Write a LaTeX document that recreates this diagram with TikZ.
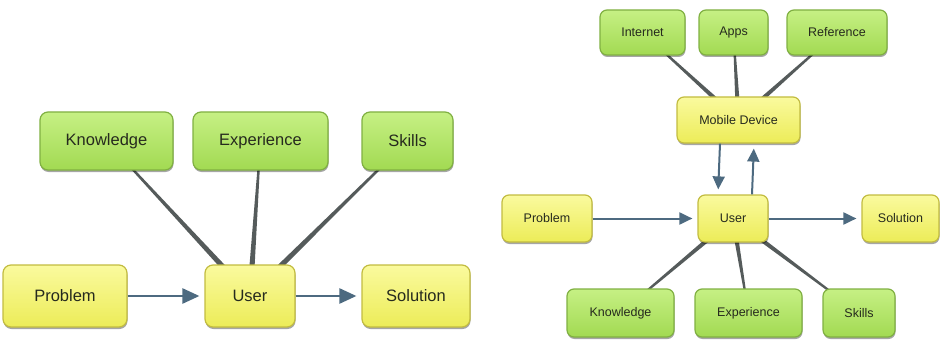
\documentclass[tikz,border=0pt]{standalone}
\usepackage{fontspec}
\setmainfont{Liberation Sans}
\usetikzlibrary{arrows.meta,shadows,backgrounds,calc}
\definecolor{gtop}{HTML}{C6F084}
\definecolor{gbot}{HTML}{A2DA52}
\definecolor{gbord}{HTML}{80B042}
\definecolor{ytop}{HTML}{FAFA9E}
\definecolor{ybot}{HTML}{ECEC58}
\definecolor{ybord}{HTML}{C2BC40}
\definecolor{linkc}{HTML}{555B5B}
\definecolor{arrc}{HTML}{4D6A80}
\definecolor{txtc}{HTML}{262A1E}
\newcommand{\taperlink}[4]{%
  \fill[linkc] ($(#1)!#3!90:(#2)$) -- ($(#1)!#3!-90:(#2)$) -- ($(#2)!#4!90:(#1)$) -- ($(#2)!#4!-90:(#1)$) -- cycle;}
\tikzset{
  box/.style={rounded corners=8pt, line width=1.2pt, inner sep=0pt, text=txtc,
    drop shadow={shadow xshift=0.5pt, shadow yshift=-2pt, opacity=0.35, fill=black}},
  greenbox/.style={box, draw=gbord, top color=gtop, bottom color=gbot},
  yellowbox/.style={box, draw=ybord, top color=ytop, bottom color=ybot},
  bigtext/.style={font=\fontsize{16.5}{19}\selectfont},
  smalltext/.style={font=\fontsize{12.5}{15}\selectfont, rounded corners=7pt},
  arr/.style={draw=arrc, line width=2.6pt, -{Triangle[length=17pt,width=15pt]}, shorten >=5pt},
  sarr/.style={draw=arrc, line width=2pt, -{Triangle[length=13pt,width=12pt]}, shorten >=5pt},
}
\begin{document}
\begin{tikzpicture}[x=1pt,y=-1pt]
\useasboundingbox (0,0) rectangle (941,342);
% left diagram
\node[greenbox,bigtext,minimum width=133pt,minimum height=58pt] (K) at (106.5,141) {Knowledge};
\node[greenbox,bigtext,minimum width=135pt,minimum height=58pt] (E) at (260.5,141) {Experience};
\node[greenbox,bigtext,minimum width=91pt,minimum height=58pt] (S) at (407.5,141) {Skills};
\node[yellowbox,bigtext,minimum width=124pt,minimum height=62pt] (P) at (65,296) {Problem};
\node[yellowbox,bigtext,minimum width=90pt,minimum height=62pt] (U) at (250,296) {User};
\node[yellowbox,bigtext,minimum width=108pt,minimum height=62pt] (So) at (416,296) {Solution};
\begin{scope}[on background layer]
\taperlink{K.center}{U.center}{0.8pt}{3pt}
\taperlink{E.center}{U.center}{0.8pt}{3pt}
\taperlink{S.center}{U.center}{0.8pt}{3pt}
\end{scope}
\draw[arr] (P) -- (U);
\draw[arr] (U) -- (So);
% right diagram
\node[greenbox,smalltext,minimum width=85pt,minimum height=45pt] (I2) at (642.5,32.5) {Internet};
\node[greenbox,smalltext,minimum width=69pt,minimum height=45pt] (A2) at (733.5,32.5) {Apps};
\node[greenbox,smalltext,minimum width=100pt,minimum height=45pt] (R2) at (837,32.5) {Reference};
\node[yellowbox,smalltext,minimum width=123pt,minimum height=46pt] (M2) at (738.5,120) {Mobile Device};
\node[yellowbox,smalltext,minimum width=90pt,minimum height=47pt] (P2) at (547,218.5) {Problem};
\node[yellowbox,smalltext,minimum width=70pt,minimum height=47pt] (U2) at (733,218.5) {User};
\node[yellowbox,smalltext,minimum width=77pt,minimum height=47pt] (So2) at (900.5,218.5) {Solution};
\node[greenbox,smalltext,minimum width=107pt,minimum height=48pt] (K2) at (620.5,313) {Knowledge};
\node[greenbox,smalltext,minimum width=107pt,minimum height=48pt] (E2) at (748.5,313) {Experience};
\node[greenbox,smalltext,minimum width=72pt,minimum height=48pt] (S2) at (859,313) {Skills};
\begin{scope}[on background layer]
\taperlink{I2.center}{M2.center}{0.7pt}{2.5pt}
\taperlink{A2.center}{M2.center}{0.7pt}{2.5pt}
\taperlink{R2.center}{M2.center}{0.7pt}{2.5pt}
\taperlink{K2.center}{U2.center}{0.7pt}{2.5pt}
\taperlink{E2.center}{U2.center}{0.7pt}{2.5pt}
\taperlink{S2.center}{U2.center}{0.7pt}{2.5pt}
\end{scope}
\draw[sarr] (P2) -- (U2);
\draw[sarr] (U2) -- (So2);
\draw[sarr] ([xshift=-18.5pt]M2.south) -- ([xshift=-15pt]U2.north);
\draw[sarr] ([xshift=19pt]U2.north) -- ([xshift=15.5pt]M2.south);
\end{tikzpicture}
\end{document}
